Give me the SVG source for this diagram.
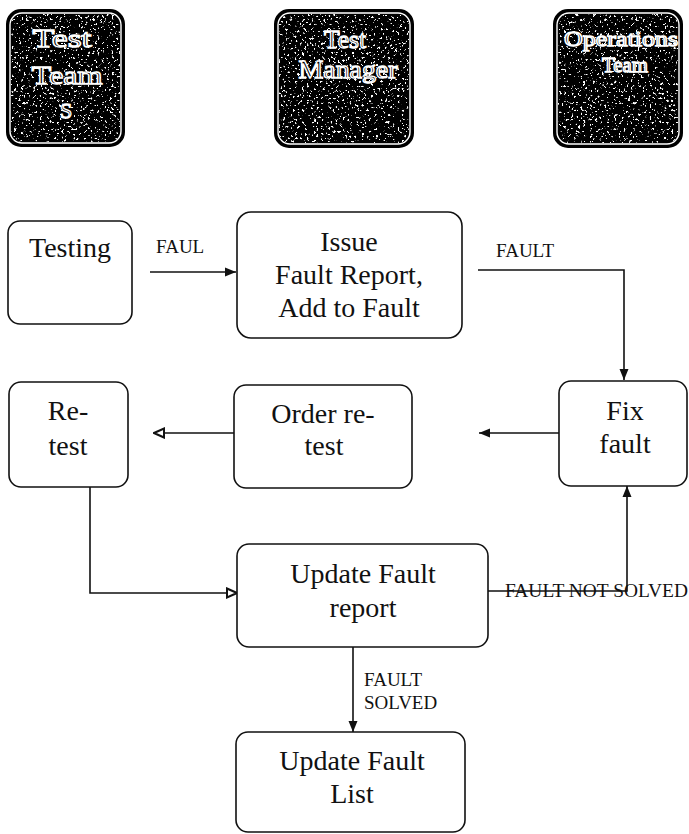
<svg xmlns="http://www.w3.org/2000/svg" width="689" height="834" viewBox="0 0 689 834">
<style>
.node{fill:#fff;stroke:#111;stroke-width:1.6}
.t{font-family:"Liberation Serif","Times New Roman",serif;font-size:28px;fill:#111;text-anchor:middle}
.lbl{font-family:"Liberation Serif","Times New Roman",serif;font-size:19px;fill:#111}
.hdr{fill:#000;stroke:#000;stroke-width:2}
.hdrin{fill:none;stroke:#fff;stroke-width:1.4}
.ht{font-family:"Liberation Serif","Times New Roman",serif;fill:#000;stroke:#fff;stroke-width:1.3;text-anchor:middle;lengthAdjust:spacingAndGlyphs}
.c{fill:none;stroke:#111;stroke-width:1.6}
</style>
<defs>
<marker id="af" markerUnits="userSpaceOnUse" markerWidth="12" markerHeight="12" viewBox="0 0 12 12" refX="11" refY="6" orient="auto">
<path d="M0,1.5 L11,6 L0,10.5 Z" fill="#111"/>
</marker>
<marker id="ao" markerUnits="userSpaceOnUse" markerWidth="12" markerHeight="12" viewBox="0 0 12 12" refX="11" refY="6" orient="auto">
<path d="M1,1.5 L11,6 L1,10.5 Z" fill="#fff" stroke="#111" stroke-width="2"/>
</marker>
<filter id="speck" x="0" y="0" width="100%" height="100%">
<feTurbulence type="fractalNoise" baseFrequency="0.42" numOctaves="2" seed="7" result="n"/>
<feColorMatrix in="n" type="matrix" values="0 0 0 0 1  0 0 0 0 1  0 0 0 0 1  14 0 0 0 -8.7" result="d"/>
<feComposite in="d" in2="SourceGraphic" operator="in"/>
</filter>
</defs>

<g id="hdr-test-team">
<rect class="hdr" x="7" y="10" width="117" height="136" rx="14"/>
<rect x="11" y="14" width="109" height="128" rx="11" fill="#fff" filter="url(#speck)"/>
<rect class="hdrin" x="10" y="13" width="111" height="130" rx="12"/>
<text class="ht" x="62" y="47" font-size="26" textLength="59" lengthAdjust="spacingAndGlyphs">Test</text>
<text class="ht" x="67" y="84" font-size="26" textLength="71" lengthAdjust="spacingAndGlyphs">Team</text>
<text class="ht" x="66" y="118" font-size="22">S</text>
</g>
<g id="hdr-test-manager">
<rect class="hdr" x="275" y="10" width="138" height="137" rx="14"/>
<rect x="279" y="14" width="130" height="129" rx="11" fill="#fff" filter="url(#speck)"/>
<rect class="hdrin" x="278" y="13" width="132" height="131" rx="12"/>
<text class="ht" x="345" y="48" font-size="25" textLength="42" lengthAdjust="spacingAndGlyphs">Test</text>
<text class="ht" x="348" y="78" font-size="25" textLength="99" lengthAdjust="spacingAndGlyphs">Manager</text>
</g>
<g id="hdr-operations-team">
<rect class="hdr" x="554" y="10" width="128" height="137" rx="14"/>
<rect x="558" y="14" width="120" height="129" rx="11" fill="#fff" filter="url(#speck)"/>
<rect class="hdrin" x="557" y="13" width="122" height="131" rx="12"/>
<text class="ht" x="621" y="46" font-size="20" textLength="114" lengthAdjust="spacingAndGlyphs">Operations</text>
<text class="ht" x="625" y="72" font-size="20" textLength="46" lengthAdjust="spacingAndGlyphs">Team</text>
</g>

<g id="connectors">
<path class="c" d="M150,272 H236" marker-end="url(#af)"/>
<path class="c" d="M478,270 H624 V380" marker-end="url(#af)"/>
<path class="c" d="M559,433 H479" marker-end="url(#af)"/>
<path class="c" d="M234,433 H154" marker-end="url(#ao)"/>
<path class="c" d="M90,487 V593 H237" marker-end="url(#ao)"/>
<path class="c" d="M480,591 H627 V486" marker-end="url(#af)"/>
<path class="c" d="M353,647 V732" marker-end="url(#af)"/>
<text class="lbl" x="156" y="253">FAUL</text>
<text class="lbl" x="496" y="257">FAULT</text>
<text class="lbl" x="505" y="597" textLength="183" lengthAdjust="spacingAndGlyphs">FAULT NOT SOLVED</text>
<text class="lbl" x="364" y="686">FAULT</text>
<text class="lbl" x="364" y="709">SOLVED</text>
</g>

<g id="testing">
<rect class="node" x="8" y="221" width="124" height="103" rx="12"/>
<text class="t" x="70" y="257" font-size="26">Testing</text>
</g>
<g id="issue-fault-report">
<rect class="node" x="237" y="212" width="225" height="126" rx="14"/>
<text class="t" x="349" y="251">Issue</text>
<text class="t" x="349" y="284">Fault Report,</text>
<text class="t" x="349" y="317">Add to Fault</text>
</g>
<g id="re-test">
<rect class="node" x="9" y="382" width="119" height="105" rx="12"/>
<text class="t" x="68" y="420">Re-</text>
<text class="t" x="68" y="455">test</text>
</g>
<g id="order-re-test">
<rect class="node" x="234" y="385" width="178" height="103" rx="12"/>
<text class="t" x="323" y="423">Order re-</text>
<text class="t" x="324" y="455">test</text>
</g>
<g id="fix-fault">
<rect class="node" x="559" y="381" width="128" height="105" rx="12"/>
<text class="t" x="625" y="420">Fix</text>
<text class="t" x="625" y="453">fault</text>
</g>
<g id="update-fault-report">
<rect class="node" x="237" y="544" width="251" height="103" rx="12"/>
<text class="t" x="363" y="583">Update Fault</text>
<text class="t" x="363" y="617">report</text>
</g>
<g id="update-fault-list">
<rect class="node" x="236" y="732" width="229" height="100" rx="12"/>
<text class="t" x="352" y="770">Update Fault</text>
<text class="t" x="352" y="803">List</text>
</g>
</svg>
